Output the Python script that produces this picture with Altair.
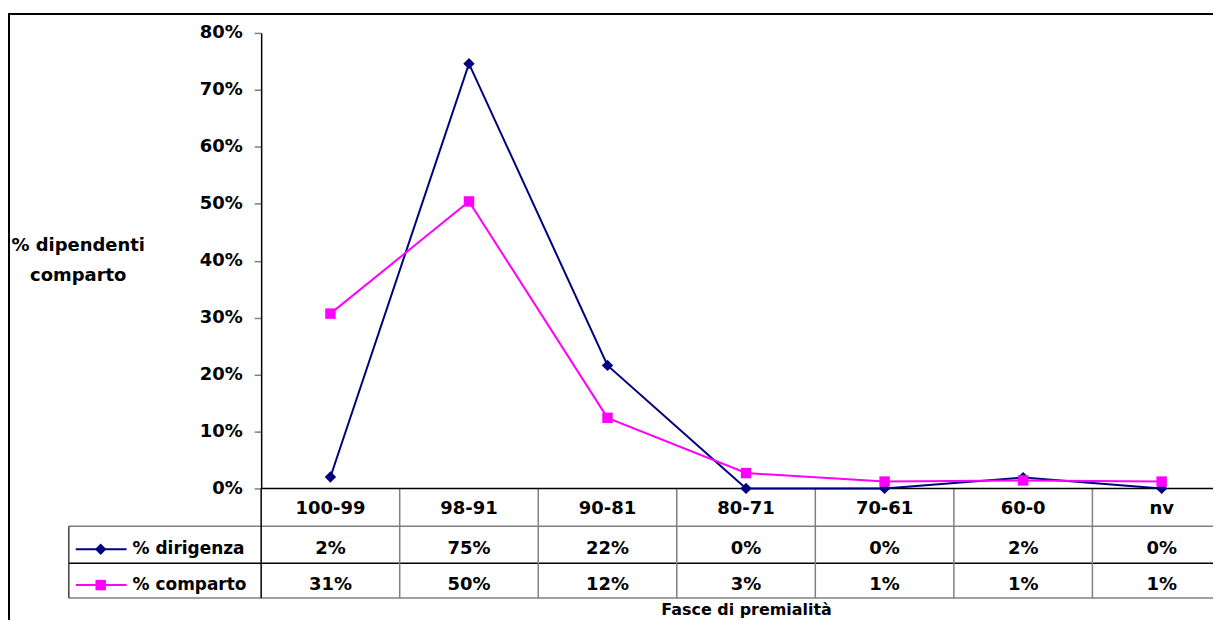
import altair as alt
import pandas as pd

# ---------------- data ----------------
categories = ["100-99", "98-91", "90-81", "80-71", "70-61", "60-0", "nv"]
series_names = ["% dirigenza", "% comparto"]
dirigenza = [0.020, 0.746, 0.216, 0.0, 0.0, 0.019, 0.0]
comparto = [0.307, 0.504, 0.124, 0.027, 0.012, 0.014, 0.012]
y_ticks = [0.0, 0.1, 0.2, 0.3, 0.4, 0.5, 0.6, 0.7, 0.8]
y_title = ["% dipendenti", "comparto"]
x_title = "Fasce di premialità"

# ---------------- styles / layout ----------------
colors = ["#000080", "#FF00FF"]
shapes = ["diamond", "square"]
sizes = [130, 110]
FONT = "DejaVu Sans"
COL = 139
FULL_W = COL * len(categories)   # band range (extends past the window edge)
W = 955                          # visible view width (the rest is cut off)
PLOT_H = 457
H = 567
HEADER_Y = 478
ROW_Y = [518, 554]
GRAY = "#808080"

rows = []
for name, vals in zip(series_names, [dirigenza, comparto]):
    for c, v in zip(categories, vals):
        rows.append({"fascia": c, "serie": name, "valore": v})
df = pd.DataFrame(rows)
cat_df = pd.DataFrame({"fascia": categories})
ser_df = pd.DataFrame({"serie": series_names})
one = pd.DataFrame({"k": [0]})

x_axis = alt.Axis(labels=False, ticks=False, domain=False, grid=False,
                  title=x_title, titleFont=FONT, titleFontSize=16,
                  titleFontWeight="bold", titleColor="black", titlePadding=4)


def x_enc(**kw):
    return alt.X("fascia:N", sort=categories,
                 scale=alt.Scale(type="band", domain=categories, range=[0, FULL_W],
                                 paddingInner=0, paddingOuter=0),
                 axis=x_axis, **kw)


y_enc = alt.Y("valore:Q",
              scale=alt.Scale(domain=[0, 0.8], range=[PLOT_H, 0], nice=False),
              axis=alt.Axis(values=y_ticks, format=".0%", grid=False,
                            labelFont=FONT, labelFontSize=18, labelFontWeight="bold",
                            labelColor="black", labelPadding=12,
                            tickSize=7, tickColor=GRAY, tickWidth=1.5,
                            domainColor="black", domainWidth=1.5,
                            title=y_title, titleAngle=0, titleAlign="center",
                            titleBaseline="top", titleX=-184, titleY=204,
                            titleLineHeight=30, titleFont=FONT, titleFontSize=18,
                            titleFontWeight="bold", titleColor="black"))

color_enc = alt.Color("serie:N", scale=alt.Scale(domain=series_names, range=colors),
                      legend=None)

lines = alt.Chart(df).mark_line(strokeWidth=2).encode(
    x=x_enc(), y=y_enc, color=color_enc)

points = alt.Chart(df).mark_point(filled=True, opacity=1, strokeWidth=0).encode(
    x=x_enc(), y=y_enc, color=color_enc,
    shape=alt.Shape("serie:N", scale=alt.Scale(domain=series_names, range=shapes),
                    legend=None),
    size=alt.Size("serie:N", scale=alt.Scale(domain=series_names, range=sizes),
                  legend=None))

text_style = dict(font=FONT, fontSize=18, fontWeight="bold", color="black",
                  baseline="middle")
label_style = dict(text_style, fontSize=17)

header = alt.Chart(cat_df).mark_text(align="center", **text_style).encode(
    x=x_enc(), y=alt.value(HEADER_Y), text="fascia:N")


def hline(y, x0, x1, color, width=1.5):
    return alt.Chart(one).mark_rule(color=color, strokeWidth=width).encode(
        x=alt.value(x0), x2=alt.value(x1), y=alt.value(y))


def vline(x, y0, y1, color, width=1.5):
    return alt.Chart(one).mark_rule(color=color, strokeWidth=width).encode(
        x=alt.value(x), y=alt.value(y0), y2=alt.value(y1))


col_lines = alt.Chart(cat_df).transform_filter(
    alt.datum.fascia != categories[0]
).mark_rule(color=GRAY, strokeWidth=1.5).encode(
    x=x_enc(bandPosition=0), y=alt.value(PLOT_H), y2=alt.value(H))

layers = [
    hline(495, -193, W, GRAY),
    hline(532, -193, W, "black"),
    hline(H, -193, W, GRAY),
    vline(-193, 495, H, "#404040"),
    col_lines,
    vline(0, PLOT_H, H, "black"),
    hline(PLOT_H, 0, W, "black"),
    # outer chart frame (runs off the bottom and right edges)
    vline(-253, -19, 640, "black", 2),
    hline(-19, -254, W + 10, "black", 2),
    lines, points, header,
]

for i, name in enumerate(series_names):
    sub = ser_df[ser_df.serie == name]
    layers.append(alt.Chart(sub).mark_rule(color=colors[i], strokeWidth=2).encode(
        x=alt.value(-186), x2=alt.value(-135), y=alt.value(ROW_Y[i])))
    layers.append(alt.Chart(sub).mark_point(filled=True, opacity=1, strokeWidth=0,
                                            shape=shapes[i], size=sizes[i],
                                            color=colors[i]).encode(
        x=alt.value(-161), y=alt.value(ROW_Y[i])))
    layers.append(alt.Chart(sub).mark_text(align="left", **label_style).encode(
        x=alt.value(-129), y=alt.value(ROW_Y[i]), text="serie:N"))
    layers.append(alt.Chart(df).transform_filter(alt.datum.serie == name)
                  .mark_text(align="center", **text_style).encode(
        x=x_enc(), y=alt.value(ROW_Y[i]),
        text=alt.Text("valore:Q", format=".0%")))

chart = alt.layer(*layers).properties(
    width=W, height=H,
    autosize=alt.AutoSizeParams(type="none"),
    padding={"left": 254, "top": 24, "right": 0, "bottom": 21},
    background="white",
).configure_view(stroke=None)

chart.save("out.html", embed_options={"renderer": "svg", "actions": False})
